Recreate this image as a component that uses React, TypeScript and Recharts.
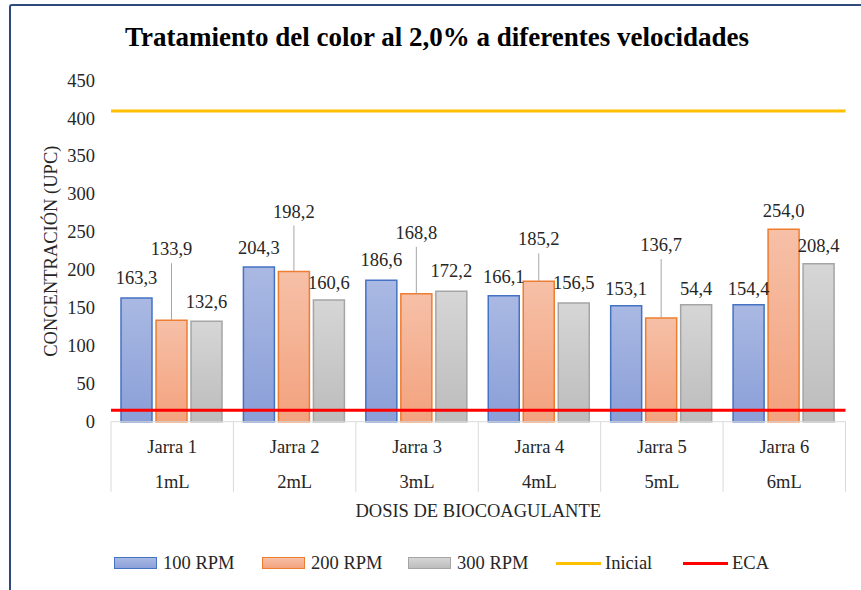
import React from 'react';
import {
  BarChart,
  Bar,
  XAxis,
  YAxis,
  ReferenceLine,
  LabelList,
  Label,
  Legend,
} from 'recharts';

const CATEGORIES = ['Jarra 1', 'Jarra 2', 'Jarra 3', 'Jarra 4', 'Jarra 5', 'Jarra 6'];
const DOSES = ['1mL', '2mL', '3mL', '4mL', '5mL', '6mL'];

const RPM_100 = [163.3, 204.3, 186.6, 166.1, 153.1, 154.4];
const RPM_200 = [133.9, 198.2, 168.8, 185.2, 136.7, 254.0];
const RPM_300 = [132.6, 160.6, 172.2, 156.5, 154.4, 208.4];

// label text as printed on the chart
const LABELS_100 = ['163,3', '204,3', '186,6', '166,1', '153,1', '154,4'];
const LABELS_200 = ['133,9', '198,2', '168,8', '185,2', '136,7', '254,0'];
const LABELS_300 = ['132,6', '160,6', '172,2', '156,5', '54,4', '208,4'];

const INICIAL = 410;
const ECA = 15;
const Y_TICKS = [0, 50, 100, 150, 200, 250, 300, 350, 400, 450];

// how far each label sits above its bar (px), layout only
const LIFT_100 = [20, 19, 20, 19, 17, 16];
const LIFT_200 = [71, 60, 61, 42, 73, 18];
const LIFT_300 = [19, 17, 20, 20, 16, 18];

const FONT = '"Liberation Serif", "Times New Roman", serif';
const TEXT = '#262626';
const W = 861;
const H = 590;
const PLOT_LEFT = 111;
const PLOT_RIGHT = 845.5;
const PLOT_TOP = 80.7;
const PLOT_BOTTOM = 421.7;
const X_AXIS_H = 100;

const data = CATEGORIES.map((c, i) => ({
  jarra: c,
  dose: DOSES[i],
  rpm100: RPM_100[i],
  rpm200: RPM_200[i],
  rpm300: RPM_300[i],
}));

function barLabel(texts: string[], lifts: number[]) {
  return (props: any) => {
    const { x, y, width, index } = props;
    const cx = Number(x) + Number(width) / 2;
    const top = Number(y);
    const lift = lifts[index];
    const cy = top - lift;
    return (
      <g>
        {lift > 30 && (
          <line x1={cx} x2={cx} y1={cy + 14} y2={top} stroke="#a6a6a6" strokeWidth={1} />
        )}
        <text
          x={cx}
          y={cy}
          textAnchor="middle"
          dominantBaseline="central"
          fontSize={18.5}
          fontFamily={FONT}
          fill={TEXT}
        >
          {texts[index]}
        </text>
      </g>
    );
  };
}

function CategoryTick(props: any) {
  const { x, y, payload } = props;
  const band = (PLOT_RIGHT - PLOT_LEFT) / CATEGORIES.length;
  const i = payload.index;
  return (
    <g>
      <line x1={x - band / 2} x2={x - band / 2} y1={y} y2={y + 70} stroke="#d9d9d9" />
      {i === CATEGORIES.length - 1 && (
        <line x1={x + band / 2} x2={x + band / 2} y1={y} y2={y + 70} stroke="#d9d9d9" />
      )}
      <text x={x} y={y + 25} textAnchor="middle" dominantBaseline="central" fontSize={18.5} fontFamily={FONT} fill={TEXT}>
        {payload.value}
      </text>
      <text x={x} y={y + 60} textAnchor="middle" dominantBaseline="central" fontSize={18.5} fontFamily={FONT} fill={TEXT}>
        {DOSES[i]}
      </text>
    </g>
  );
}

function ValueTick(props: any) {
  const { y, payload } = props;
  return (
    <text x={95} y={y} textAnchor="end" dominantBaseline="central" fontSize={18.5} fontFamily={FONT} fill={TEXT}>
      {payload.value}
    </text>
  );
}

const LEGEND = [
  { name: '100 RPM', kind: 'box', bg: 'linear-gradient(#a9b8e3, #8ca1d9)', border: '#4472c4', left: 114 },
  { name: '200 RPM', kind: 'box', bg: 'linear-gradient(#f6c0a7, #f3a37f)', border: '#ed7d31', left: 262 },
  { name: '300 RPM', kind: 'box', bg: 'linear-gradient(#d6d6d6, #bdbdbd)', border: '#a5a5a5', left: 408 },
  { name: 'Inicial', kind: 'line', bg: '#ffc000', border: '', left: 556 },
  { name: 'ECA', kind: 'line', bg: '#ff0000', border: '', left: 683 },
];

function LegendContent() {
  return (
    <div style={{ position: 'relative', width: W, height: 30, fontFamily: FONT, fontSize: 18.5, color: TEXT }}>
      {LEGEND.map((it) => (
        <div key={it.name} style={{ position: 'absolute', left: it.left, top: 0, display: 'flex', alignItems: 'center', height: 28 }}>
          {it.kind === 'box' ? (
            <div style={{ width: 41, height: 10, background: it.bg, border: `1.5px solid ${it.border}`, marginRight: 6 }} />
          ) : (
            <div style={{ width: 45, height: 3, background: it.bg, marginRight: 4 }} />
          )}
          <span>{it.name}</span>
        </div>
      ))}
    </div>
  );
}

export default function App() {
  return (
    <div style={{ position: 'absolute', left: 0, top: 0, width: W, height: H, background: '#fff', overflow: 'hidden' }}>
      <div
        style={{
          position: 'absolute',
          left: 9,
          top: 4,
          width: W,
          height: H,
          borderLeft: '2.5px solid #2f4b7c',
          borderTop: '2.5px solid #2f4b7c',
          borderTopLeftRadius: 3,
        }}
      />
      <div
        style={{
          position: 'absolute',
          left: 0,
          top: 22,
          width: 874,
          textAlign: 'center',
          fontFamily: FONT,
          fontWeight: 'bold',
          fontSize: 27,
          color: '#000',
          whiteSpace: 'nowrap',
        }}
      >
        Tratamiento del color al 2,0% a diferentes velocidades
      </div>
      <BarChart
        width={W}
        height={H}
        data={data}
        margin={{ top: PLOT_TOP, right: W - PLOT_RIGHT, left: 0, bottom: H - PLOT_BOTTOM - X_AXIS_H }}
        barCategoryGap={10}
        barGap={4}
        style={{ position: 'absolute', left: 0, top: 0 }}
      >
        <defs>
          <linearGradient id="gBlue" x1="0" y1="0" x2="0" y2="1">
            <stop offset="0%" stopColor="#aab9e3" />
            <stop offset="100%" stopColor="#8a9fd8" />
          </linearGradient>
          <linearGradient id="gOrange" x1="0" y1="0" x2="0" y2="1">
            <stop offset="0%" stopColor="#f6c0a7" />
            <stop offset="100%" stopColor="#f3a27e" />
          </linearGradient>
          <linearGradient id="gGray" x1="0" y1="0" x2="0" y2="1">
            <stop offset="0%" stopColor="#d6d6d6" />
            <stop offset="100%" stopColor="#bcbcbc" />
          </linearGradient>
        </defs>
        <XAxis
          dataKey="jarra"
          height={X_AXIS_H}
          tick={<CategoryTick />}
          tickLine={false}
          tickSize={0}
          tickMargin={0}
          interval={0}
          axisLine={{ stroke: '#d9d9d9' }}
        >
          <Label
            value="DOSIS DE BIOCOAGULANTE"
            position="insideBottom"
            offset={5}
            style={{ fontFamily: FONT, fontSize: 18.5, fill: TEXT }}
          />
        </XAxis>
        <YAxis
          width={PLOT_LEFT}
          domain={[0, 450]}
          ticks={Y_TICKS}
          tick={<ValueTick />}
          tickLine={false}
          axisLine={false}
          interval={0}
        >
          <Label
            value="CONCENTRACIÓN (UPC)"
            angle={-90}
            position="center"
            dx={-5}
            style={{ fontFamily: FONT, fontSize: 18.5, fill: TEXT, textAnchor: 'middle' }}
          />
        </YAxis>
        <Bar dataKey="rpm100" name="100 RPM" fill="url(#gBlue)" stroke="#4472c4" strokeWidth={1.5} isAnimationActive={false}>
          <LabelList dataKey="rpm100" content={barLabel(LABELS_100, LIFT_100)} />
        </Bar>
        <Bar dataKey="rpm200" name="200 RPM" fill="url(#gOrange)" stroke="#ed7d31" strokeWidth={1.5} isAnimationActive={false}>
          <LabelList dataKey="rpm200" content={barLabel(LABELS_200, LIFT_200)} />
        </Bar>
        <Bar dataKey="rpm300" name="300 RPM" fill="url(#gGray)" stroke="#a5a5a5" strokeWidth={1.5} isAnimationActive={false}>
          <LabelList dataKey="rpm300" content={barLabel(LABELS_300, LIFT_300)} />
        </Bar>
        <ReferenceLine y={INICIAL} stroke="#ffc000" strokeWidth={3} />
        <ReferenceLine y={ECA} stroke="#ff0000" strokeWidth={3} />
        <Legend
          verticalAlign="middle"
          align="center"
          content={<LegendContent />}
          wrapperStyle={{ left: 0, top: 549, width: W }}
        />
      </BarChart>
    </div>
  );
}
